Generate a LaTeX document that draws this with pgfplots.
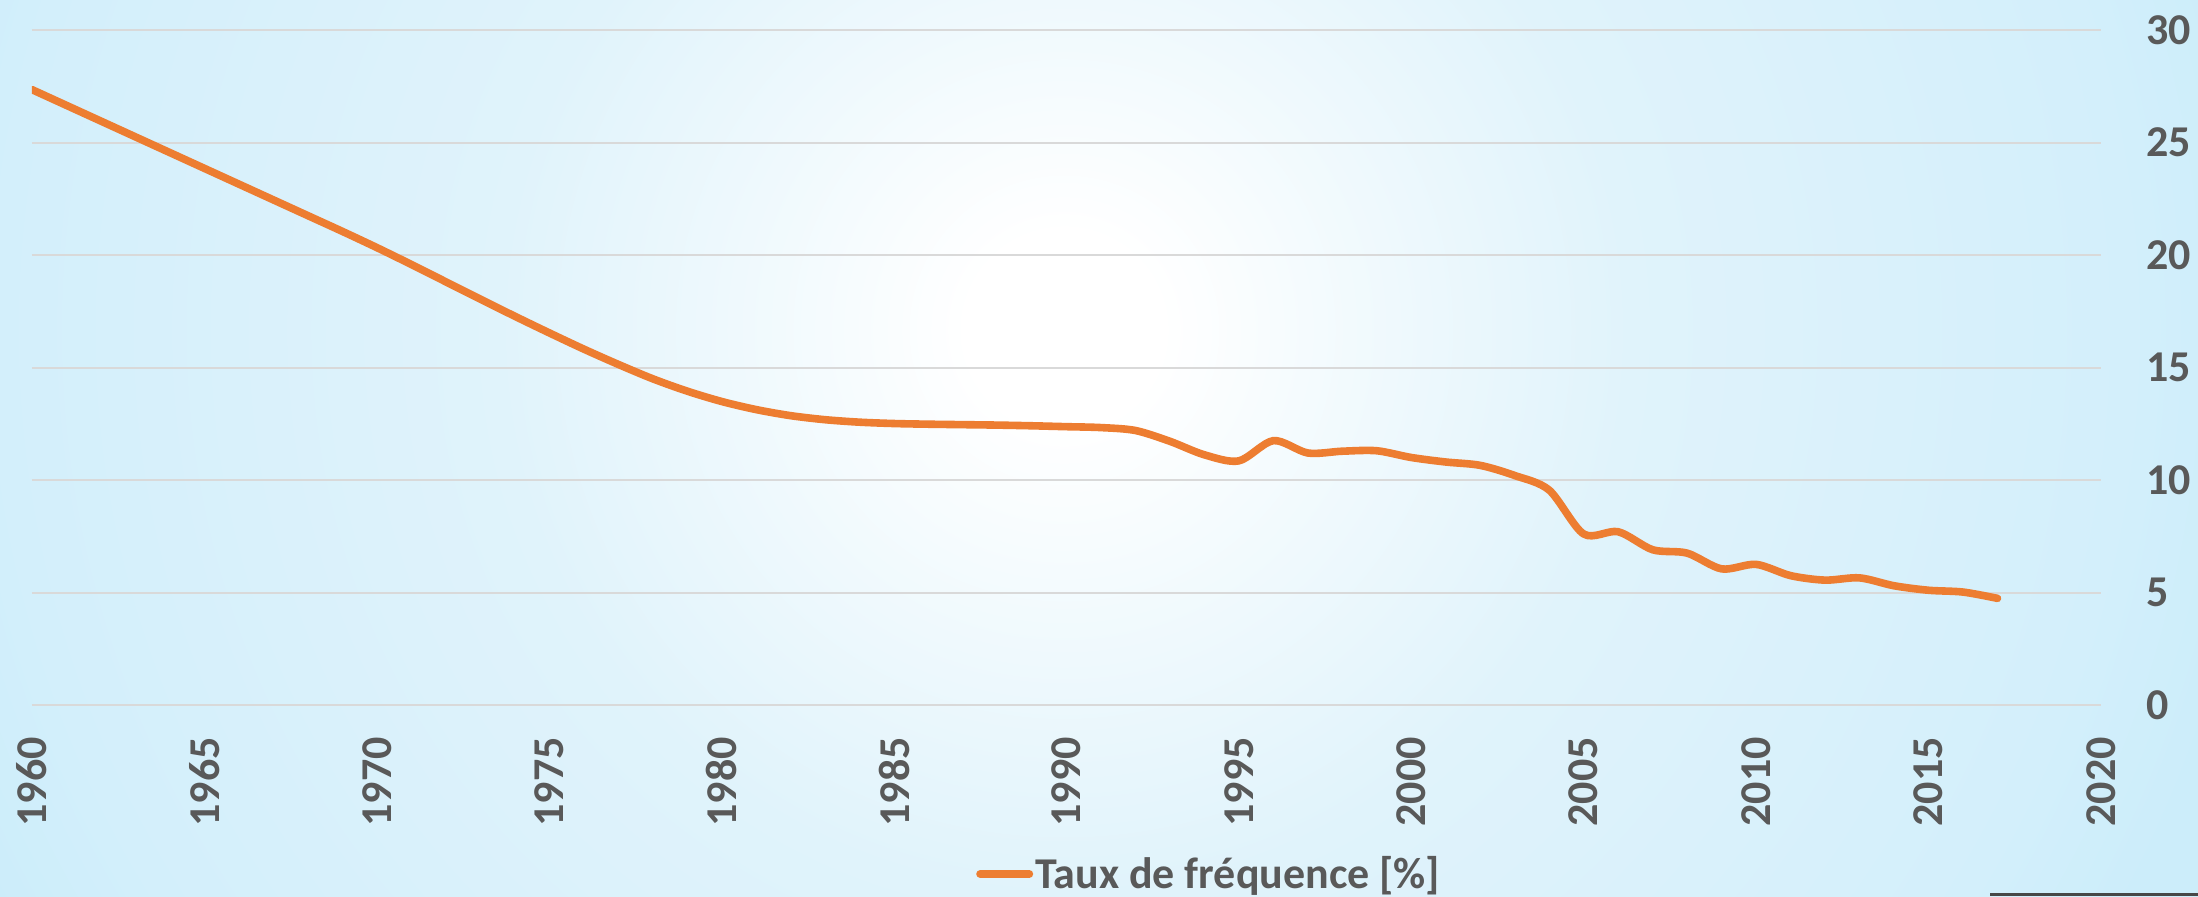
\documentclass[border=0pt]{standalone}
\usepackage{fontspec}
\setmainfont{Carlito}
\usepackage{pgfplots}
\pgfplotsset{compat=1.18}
\definecolor{txt}{HTML}{595959}
\definecolor{gridc}{HTML}{D9D9D9}
\definecolor{lineorange}{HTML}{ED7D31}
\definecolor{bgA}{RGB}{239,249,253}
\definecolor{bgB}{RGB}{224,243,251}
\definecolor{bgC}{RGB}{211,239,251}
\definecolor{bgD}{RGB}{204,237,250}
\pgfdeclareradialshading{bgshade}{\pgfpoint{0bp}{0bp}}{color(0bp)=(white); color(2bp)=(white); color(6.8bp)=(bgA); color(11.7bp)=(bgB); color(22bp)=(bgC); color(25bp)=(bgD); color(50bp)=(bgD)}

\pgfplotstableread{
year val
1960 27.35
1961 26.65
1962 25.95
1963 25.25
1964 24.55
1965 23.85
1966 23.15
1967 22.45
1968 21.75
1969 21.05
1970 20.33
1971 19.58
1972 18.81
1973 18.04
1974 17.28
1975 16.54
1976 15.82
1977 15.14
1978 14.50
1979 13.95
1980 13.49
1981 13.13
1982 12.86
1983 12.68
1984 12.57
1985 12.51
1986 12.48
1987 12.46
1988 12.44
1989 12.41
1990 12.37
1991 12.33
1992 12.2
1993 11.72
1994 11.12
1995 10.85
1996 11.75
1997 11.2
1998 11.28
1999 11.3
2000 11.0
2001 10.8
2002 10.65
2003 10.2
2004 9.55
2005 7.6
2006 7.7
2007 6.9
2008 6.75
2009 6.05
2010 6.25
2011 5.75
2012 5.55
2013 5.65
2014 5.3
2015 5.1
2016 5.02
2017 4.74
}\taux

\begin{document}
\begin{tikzpicture}
\useasboundingbox (0,0) rectangle (1099pt,448pt);
\begin{scope}
\clip (0,0) rectangle (1099pt,448pt);
\shade[shading=bgshade] (-73pt,-322pt) rectangle (1137pt,888pt);
\end{scope}
\fill[black!72] (995pt,0) rectangle (1099pt,1.6pt);
\begin{axis}[
  at={(16pt,95.5pt)}, anchor=south west,
  scale only axis, width=1034.5pt, height=337.5pt,
  xmin=1960, xmax=2020, ymin=0, ymax=30,
  enlargelimits=false,
  xtick={1960,1965,...,2020}, ytick={0,5,...,30},
  axis line style={draw=none},
  tick style={draw=none},
  ymajorgrids,
  grid style={gridc, line width=1pt},
  yticklabel pos=right,
  xticklabel style={rotate=90, anchor=east, inner sep=0pt},
  yticklabel style={anchor=west, inner sep=0pt},
  xticklabel shift=16pt, yticklabel shift=22.5pt,
  ticklabel style={font=\fontsize{22}{22}\selectfont\bfseries, text=txt},
  /pgf/number format/assume math mode=true,
  /pgf/number format/1000 sep={},
  legend style={at={(0.569,-0.2504)}, anchor=center, draw=none, fill=none,
    font=\fontsize{22}{22}\selectfont\bfseries, text=txt, inner sep=0pt,
    nodes={inner sep=1pt}},
  legend image code/.code={\draw[#1, line width=4pt, line cap=round] (2pt,0) -- (26.5pt,0);},
]
\addplot[lineorange, line width=3.8pt, smooth, line cap=round, line join=round] table[x=year, y=val] {\taux};
\addlegendentry{Taux de fréquence [\%]}
\end{axis}
\end{tikzpicture}
\end{document}
